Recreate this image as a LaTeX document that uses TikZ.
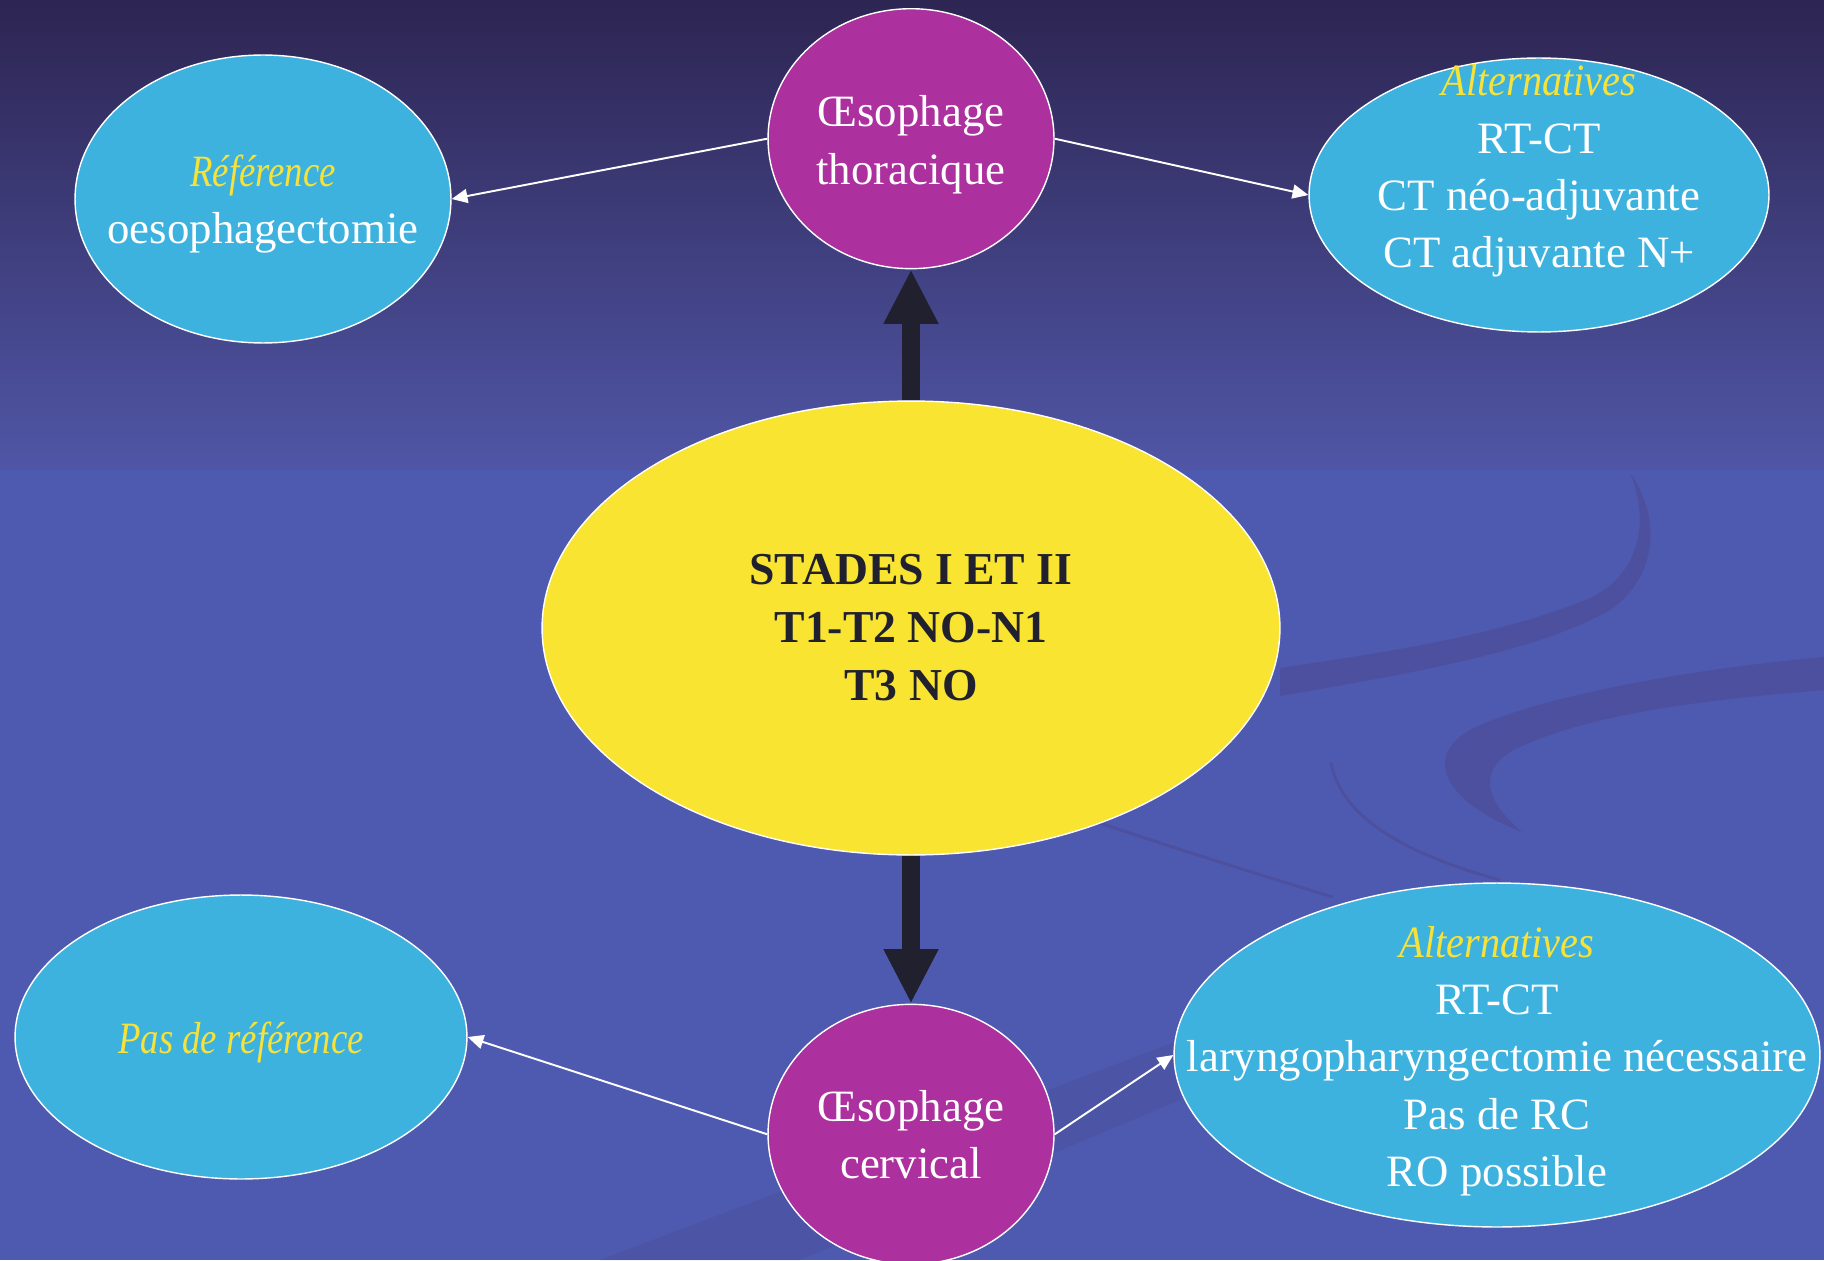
\documentclass[tikz,border=0pt]{standalone}
\usepackage{fontspec}
\setmainfont{Liberation Serif}
\usepackage{graphicx}
\usepackage{tikz}
\usetikzlibrary{shapes.geometric,arrows.meta,positioning}
\definecolor{fondhaut}{RGB}{45,37,82}
\definecolor{fondmilieu}{RGB}{80,86,166}
\definecolor{fondbas}{RGB}{78,90,175}
\definecolor{vague}{RGB}{76,80,158}
\definecolor{ciel}{RGB}{62,178,222}
\definecolor{prune}{RGB}{172,48,158}
\definecolor{soleil}{RGB}{249,228,50}
\definecolor{titre}{RGB}{247,226,58}
\definecolor{encre}{RGB}{32,32,46}
\newcommand{\ital}[2][0.82]{{\color{titre}\scalebox{#1}[1]{\itshape #2}}}

\begin{document}
\begin{tikzpicture}[
  x=0.02cm,y=-0.02cm,
  bulle/.style={ellipse,draw=white,line width=0.8pt,fill=ciel,inner sep=0pt},
  organe/.style={ellipse,draw=white,line width=0.8pt,fill=prune,inner sep=0pt,
                 minimum width=5.72cm,minimum height=5.2cm},
  stade/.style={ellipse,draw=white,line width=0.8pt,fill=soleil,inner sep=0pt,
                minimum width=14.76cm,minimum height=9.08cm,text=encre,align=center,
                font=\fontsize{26}{33}\selectfont\bfseries},
  txt/.style={align=center,text=white,font=\fontsize{25.5}{32.6}\selectfont},
  fin/.style={-{Triangle[length=9pt,width=8pt]},white,line width=1.1pt},
  gros/.style={-{Triangle[length=31pt,width=29pt]},encre,line width=9.8pt},
  vag/.style={fill=vague,draw=none}
]
% fond
\shade[top color=fondhaut,bottom color=fondmilieu] (0,0) rectangle (1824,470);
\fill[fondbas] (0,470) rectangle (1824,1260);
\useasboundingbox (0,0) rectangle (1824,1260);
\fill[vag] (1630,473) .. controls (1650,520) and (1640,575) .. (1590,598)
  .. controls (1500,635) and (1400,650) .. (1280,668) -- (1280,696)
  .. controls (1420,672) and (1540,650) .. (1610,610)
  .. controls (1660,575) and (1660,515) .. (1630,473) -- cycle;
\fill[vag] (1824,657) .. controls (1700,668) and (1540,695) .. (1470,730)
  .. controls (1425,755) and (1440,800) .. (1522,832)
  .. controls (1490,805) and (1475,775) .. (1510,752)
  .. controls (1580,715) and (1700,700) .. (1824,690) -- cycle;
\draw[vague,line width=1.6pt] (1331,763) .. controls (1340,810) and (1390,850) .. (1500,880);
\draw[vague,line width=1.6pt] (1100,823) .. controls (1180,850) and (1260,875) .. (1333,897);
\fill[vague,opacity=0.5] (600,1260) -- (1180,1040) -- (1180,1100) -- (800,1260) -- cycle;

% noeuds
\node[stade] (stades) at (911,628) {STADES I ET II\\T1-T2 NO-N1\\T3 NO};
\node[organe,above=2.62cm of stades] (thor) {};
\node[organe,below=2.96cm of stades] (cerv) {};

\node[bulle,minimum width=7.52cm,minimum height=5.76cm] (ref) at (263,199) {};
\node[bulle,minimum width=9.2cm,minimum height=5.48cm] (alt1) at (1539,195) {};
\node[bulle,minimum width=9.04cm,minimum height=5.68cm] (pasref) at (241,1037) {};
\node[bulle,minimum width=12.92cm,minimum height=6.88cm] (alt2) at (1497,1055) {};

\node[txt] (thor-t) at ([yshift=-0.12cm]thor) {Œsophage\\thoracique};
\node[txt] (cerv-t) at (cerv) {Œsophage\\cervical};
\node[txt] (ref-t) at ([yshift=-0.1cm]ref) {\ital{Référence}\\oesophagectomie};
\node[txt] (alt1-t) at ([yshift=0.48cm]alt1) {\ital[0.9]{Alternatives}\\RT-CT\\CT néo-adjuvante\\CT adjuvante N+};
\node[txt] (pasref-t) at ([yshift=-0.1cm]pasref) {\ital{Pas de référence}};
\node[txt] (alt2-t) at ([yshift=-0.12cm]alt2) {\ital[0.9]{Alternatives}\\RT-CT\\laryngopharyngectomie nécessaire\\Pas de RC\\RO possible};

% fleches
\draw[gros] (stades) -- (thor);
\draw[gros] (stades) -- (cerv);
\draw[fin] (thor.west) -- (ref.east);
\draw[fin] (thor.east) -- (alt1.west);
\draw[fin] (cerv.west) -- (pasref.east);
\draw[fin] (cerv.east) -- (alt2.west);
\end{tikzpicture}
\end{document}
